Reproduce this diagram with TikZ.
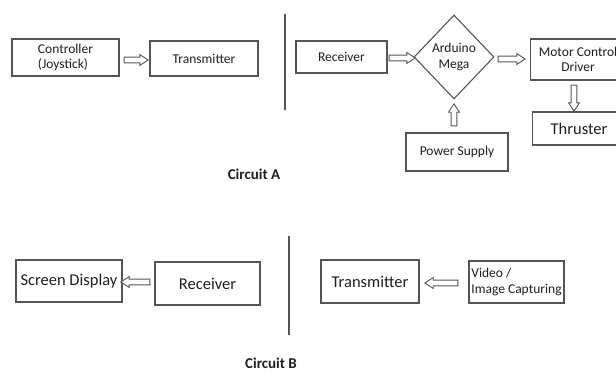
\documentclass[tikz,border=0pt]{standalone}
\usepackage{fontspec}
\setmainfont{Carlito}
\usetikzlibrary{shapes.geometric,shapes.arrows,calc}
\definecolor{edgegray}{HTML}{555555}
\definecolor{inkgray}{HTML}{1E1E1E}
\tikzset{
  blk/.style={draw=edgegray, line width=1.1pt, rectangle, inner sep=2pt,
              text=inkgray, font=\fontsize{13.5}{15.5}\selectfont, align=center},
  bigblk/.style={blk, font=\fontsize{16.5}{18.5}\selectfont},
  hollow/.style={draw=edgegray, line width=0.9pt, fill=white, single arrow,
                 inner sep=2.4pt, single arrow head extend=2.6pt,
                 single arrow tip angle=66, minimum width=10pt},
  divider/.style={draw=edgegray, line width=1.2pt},
  caption/.style={text=inkgray, font=\bfseries\fontsize{15}{17}\selectfont}
}
\begin{document}
\begin{tikzpicture}[x=1pt, y=-1pt]
\useasboundingbox (0,0) rectangle (616,373);

% ---- Circuit A ----
\node[blk, minimum width=107pt, minimum height=37pt, align=left] (ctrl) at (65.5,57.5) {Controller\\(Joystick)};
\node[blk, minimum width=108pt, minimum height=35pt] (txa) at (204,58.5) {Transmitter};
\coordinate (divAtop) at (285,14);
\coordinate (divAbot) at (285,110);
\draw[divider] (divAtop) -- (divAbot);
\node[blk, minimum width=91pt, minimum height=32pt] (rxa) at (341.5,57) {Receiver};
\node[blk, diamond, aspect=0.95, inner sep=0pt, minimum width=80pt, minimum height=84pt] (mega) at (454,57) {Arduino\\Mega};
\node[blk, minimum width=95pt, minimum height=41pt, anchor=west] (mcd) at (530,59.5) {Motor Control\\Driver};
\node[bigblk, minimum width=93pt, minimum height=33pt, anchor=west] (thr) at (532,128.5) {Thruster};
\node[blk, minimum width=102pt, minimum height=38pt] (pwr) at (457,152) {Power Supply};
\node[caption] (capA) at (254,174) {Circuit A};

\node[hollow, minimum height=24pt] (a1) at (134,60) {};
\node[hollow, minimum height=26pt] (a2) at (400,58) {};
\node[hollow, minimum height=27pt] (a3) at (509.5,59) {};
\node[hollow, minimum height=26pt, shape border rotate=270] (a4) at (574,96) {};
\node[hollow, minimum height=22pt, shape border rotate=90] (a5) at (454,117) {};

% ---- Circuit B ----
\node[bigblk, minimum width=106pt, minimum height=42pt, inner sep=1pt] (scr) at (69,281) {Screen Display};
\node[bigblk, minimum width=105pt, minimum height=43pt] (rxb) at (207.5,283.5) {Receiver};
\coordinate (divBtop) at (289,236);
\coordinate (divBbot) at (289,335);
\draw[divider] (divBtop) -- (divBbot);
\node[bigblk, minimum width=98pt, minimum height=43pt] (txb) at (370,281.5) {Transmitter};
\node[blk, minimum width=95pt, minimum height=42pt, inner sep=1pt, align=left] (vid) at (516.5,282) {Video /\\Image Capturing};
\node[caption] (capB) at (271,363.5) {Circuit B};

\node[hollow, minimum height=29pt, shape border rotate=180] (b1) at (137.5,282) {};
\node[hollow, minimum height=33pt, shape border rotate=180] (b2) at (443.5,283) {};
\end{tikzpicture}
\end{document}
